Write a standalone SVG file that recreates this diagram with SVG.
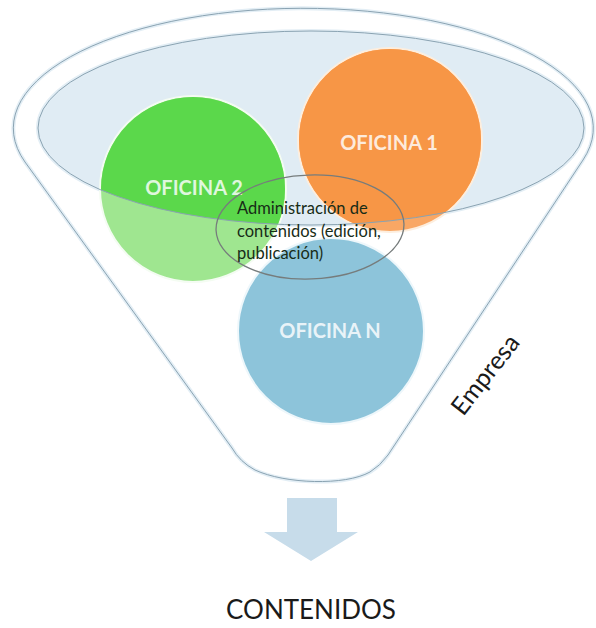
<svg xmlns="http://www.w3.org/2000/svg" width="596" height="628" viewBox="0 0 596 628">
  <style>
    .glow{fill:none;stroke:#e3eef5;stroke-width:4;stroke-linejoin:round}
    .edge{fill:none;stroke:#8aa3b2;stroke-width:1;stroke-linejoin:round}
    .ring{stroke-width:2}
    .lbl{font-family:Lato,"Open Sans","Liberation Sans",sans-serif;font-size:20px;font-weight:bold;fill:#ffffff;fill-opacity:.82;text-anchor:middle}
    .note{font-family:Lato,"Open Sans","Liberation Sans",sans-serif;font-size:16.5px;fill:#172c17}
    .big{font-family:Lato,"Open Sans","Liberation Sans",sans-serif;fill:#1a1a1a}
  </style>
  <defs>
    <!-- upper opening of the funnel; circle parts inside it are drawn in full colour -->
    <clipPath id="mouth">
      <ellipse cx="311" cy="128" rx="273" ry="97"/>
    </clipPath>
    <filter id="soft" x="-10%" y="-10%" width="120%" height="120%">
      <feGaussianBlur stdDeviation="0.6"/>
    </filter>
  </defs>

  <rect width="596" height="628" fill="#ffffff"/>

  <!-- funnel body -->
  <g id="empresa-funnel">
    <path class="glow" d="M25,162 L232,448 Q240,462 255,470 C285,484 345,486 370,472 Q380,466 388,455 L583,160 A290,120 0 1 0 25,162 Z"/>
    <path d="M25,162 L232,448 Q240,462 255,470 C285,484 345,486 370,472 Q380,466 388,455 L583,160 A290,120 0 1 0 25,162 Z" fill="#ffffff" class="edge"/>
    <ellipse cx="311" cy="128" rx="273" ry="97" class="glow"/>
    <ellipse cx="311" cy="128" rx="273" ry="97" fill="#e0ecf4"/>
  </g>

  <g id="oficina-2">
    <circle cx="193" cy="189" r="93" fill="#9fe690" stroke="#f4fcf2" class="ring"/>
    <circle cx="193" cy="189" r="92" fill="#5bd84b" clip-path="url(#mouth)"/>
    <text class="lbl" x="194" y="195">OFICINA 2</text>
  </g>

  <g id="oficina-1">
    <circle cx="390" cy="140" r="92" fill="#f9a764" stroke="#fdeede" class="ring"/>
    <circle cx="390" cy="140" r="91" fill="#f79646" clip-path="url(#mouth)"/>
    <text class="lbl" x="389" y="150">OFICINA 1</text>
  </g>

  <g id="oficina-n">
    <circle cx="331" cy="331" r="93" fill="#8dc4da" stroke="#eef7fb" class="ring"/>
    <text class="lbl" x="330" y="338">OFICINA N</text>
  </g>

  <!-- rim line of the opening, drawn over the circles -->
  <ellipse cx="311" cy="128" rx="273" ry="97" class="edge"/>

  <g id="administracion">
    <ellipse cx="310" cy="227" rx="94" ry="52" transform="rotate(-2 310 227)" fill="none" stroke="#767c7c" stroke-width="1.3"/>
    <text class="note">
      <tspan x="237" y="214">Administración de</tspan>
      <tspan x="237" y="237">contenidos (edición,</tspan>
      <tspan x="237" y="259">publicación)</tspan>
    </text>
  </g>

  <g id="empresa-label">
    <text class="big" font-size="25" text-anchor="middle" transform="translate(492 380) rotate(-52)">Empresa</text>
  </g>

  <g id="connectors">
    <path d="M287,498 H337 V532 H358 L311,561 L264,532 H287 Z" fill="#c7dcea" filter="url(#soft)"/>
  </g>

  <g id="contenidos">
    <text class="big" x="311" y="619" font-size="26" text-anchor="middle">CONTENIDOS</text>
  </g>
</svg>
